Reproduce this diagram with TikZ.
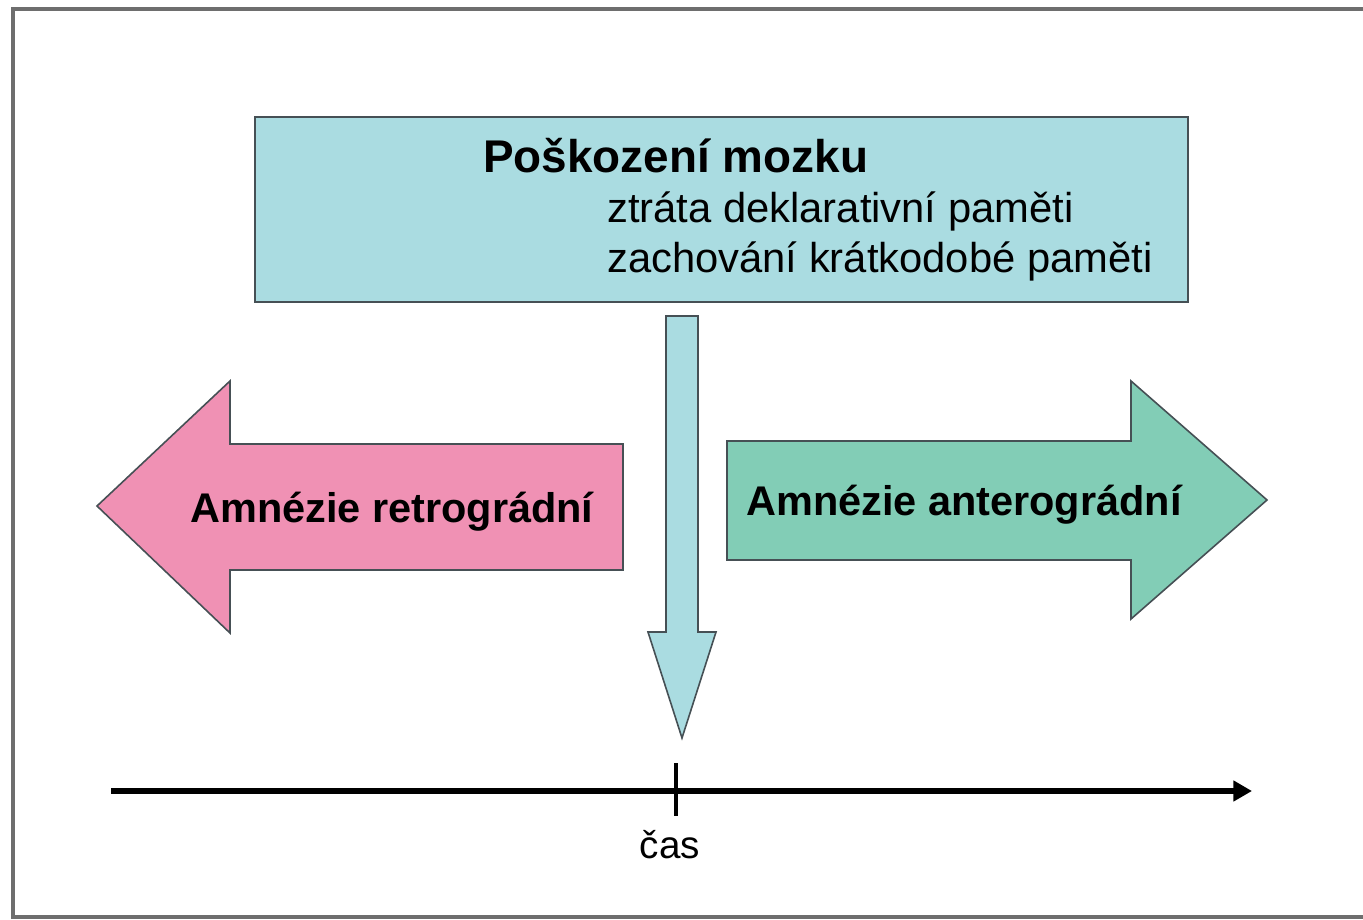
\documentclass[tikz,border=0pt]{standalone}
\usepackage{fontspec}
\setmainfont{Liberation Sans}
\usetikzlibrary{arrows.meta}
\definecolor{boxcyan}{RGB}{170,220,225}
\definecolor{arrpink}{RGB}{240,145,180}
\definecolor{arrgreen}{RGB}{130,205,182}
\definecolor{edgegray}{RGB}{70,80,85}
\definecolor{framegray}{RGB}{110,110,110}
\begin{document}
\begin{tikzpicture}[x=0.75pt,y=-0.75pt,
  shapeedge/.style={draw=edgegray,line width=1.2pt,line join=miter},
  txt/.style={inner sep=0pt,anchor=base west,text=black},
  titlefont/.style={font=\fontsize{34.4}{41}\selectfont\bfseries},
  linefont/.style={font=\fontsize{31.3}{38}\selectfont},
  labelfont/.style={font=\fontsize{31.1}{38}\selectfont\bfseries},
  casfont/.style={font=\fontsize{29}{35}\selectfont}]
\useasboundingbox (0,0) rectangle (1363,920);
% frame
\draw[framegray,line width=2.4pt] (1370,9) -- (13,9) -- (13,917) -- (1370,917);
% top box
\path[fill=boxcyan,shapeedge] (255,117) rectangle (1188,302);
\node[txt,titlefont] (title) at (483,172) {Poškození mozku};
\node[txt,linefont] (l1) at (607,222) {ztráta deklarativní paměti};
\node[txt,linefont] (l2) at (607,272) {zachování krátkodobé paměti};
% down arrow
\path[fill=boxcyan,shapeedge] (666,316) -- (698,316) -- (698,632) -- (716,632) -- (682,738) -- (648,632) -- (666,632) -- cycle;
% left arrow
\path[fill=arrpink,shapeedge] (623,444) -- (230,444) -- (230,381) -- (97,506) -- (230,633) -- (230,570) -- (623,570) -- cycle;
\node[txt,labelfont] (retro) at (190,522) {Amnézie retrográdní};
% right arrow
\path[fill=arrgreen,shapeedge] (727,441) -- (1131,441) -- (1131,381) -- (1267,500) -- (1131,619) -- (1131,560) -- (727,560) -- cycle;
\node[txt,labelfont] (antero) at (746,515) {Amnézie anterográdní};
% timeline
\coordinate (t0) at (111,791);
\coordinate (t1) at (1252,791);
\draw[line width=4.2pt,-{Triangle[length=14pt,width=15pt]}] (t0) -- (t1);
\coordinate (k0) at (676,763);
\coordinate (k1) at (676,816);
\draw[line width=2.4pt] (k0) -- (k1);
\node[txt,casfont,anchor=base] (cas) at (670,858) {čas};
\end{tikzpicture}
\end{document}
